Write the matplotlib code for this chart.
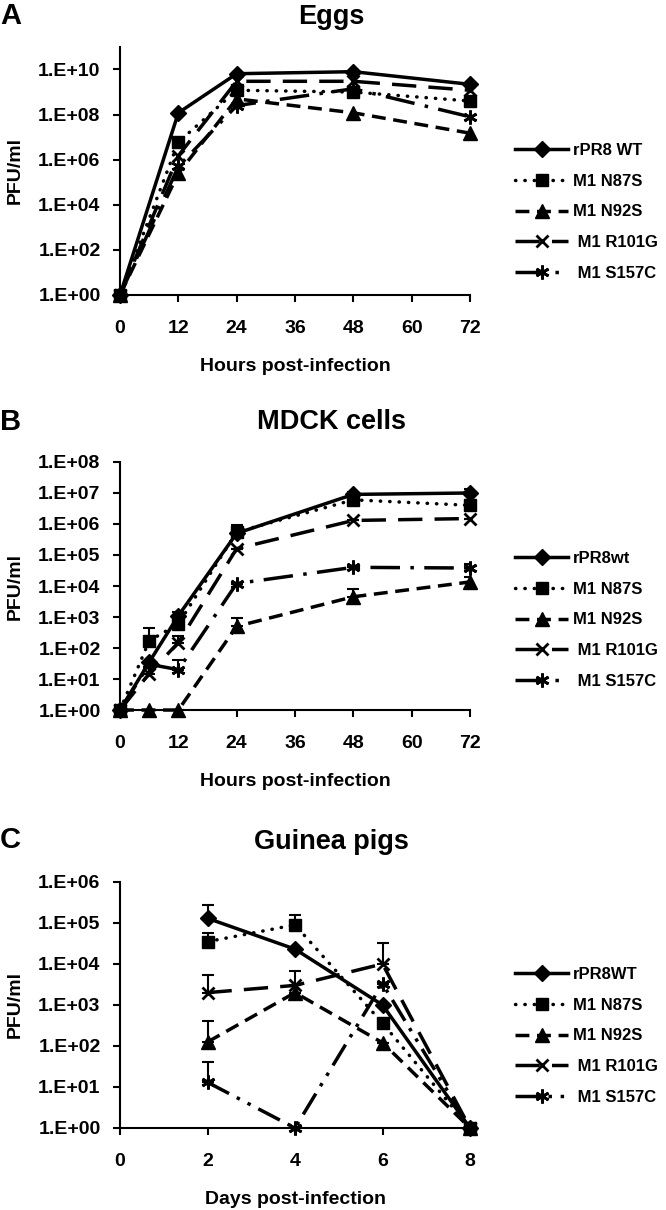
import numpy as np
import matplotlib
matplotlib.use("Agg")
import matplotlib.pyplot as plt
from matplotlib.ticker import FixedLocator, NullLocator

plt.rcParams['font.family'] = ['Liberation Sans', 'DejaVu Sans']
plt.rcParams['font.weight'] = 'bold'

# A - eggs
egg_hours = [0, 12, 24, 48, 72]
egg_wt = [1, 1.2e8, 6.5e9, 8e9, 2.2e9]
egg_n87s = [1, 6e6, 1.2e9, 1e9, 4e8]
egg_n92s = [1, 2.5e5, 5e8, 1.2e8, 1.5e7]
egg_r101g = [1, 1.5e6, 3e9, 3e9, 1.2e9]
egg_s157c = [1, 5e5, 2.5e8, 1.4e9, 8e7]
egg_labels = ['rPR8 WT', 'M1 N87S', 'M1 N92S', ' M1 R101G', ' M1 S157C']

# B - MDCK cells
mdck_hours = [0, 6, 12, 24, 48, 72]
mdck_wt = [1, 35, 1100, 5e5, 9e6, 1e7]
mdck_n87s = [1, 170, 600, 5.5e5, 6e6, 4e6]
mdck_n92s = [1, 1, 1, 500, 4.5e3, 1.35e4]
mdck_r101g = [1, 15, 150, 1.6e5, 1.3e6, 1.5e6]
mdck_s157c = [1, 30, 20, 1.2e4, 4e4, 3.8e4]
mdck_wt_err = [0, 0, 300, 2e5, 2e6, 3e6]
mdck_n87s_err = [0, 280, 400, 4e5, 2e6, 2e6]
mdck_n92s_err = [0, 0, 0, 400, 3.5e3, 6e3]
mdck_r101g_err = [0, 10, 100, 0, 0, 0]
mdck_s157c_err = [0, 0, 20, 0, 0, 1.5e4]
mdck_labels = ['rPR8wt', 'M1 N87S', 'M1 N92S', ' M1 R101G', ' M1 S157C']

# C - guinea pigs
gp_days = [2, 4, 6, 8]
gp_wt = [1.3e5, 2.3e4, 1000, 1]
gp_n87s = [3.5e4, 9e4, 360, 1]
gp_n92s = [125, 2000, 120, 1]
gp_r101g = [2000, 3000, 1e4, 1]
gp_s157c = [13, 1, 3300, 1]
gp_wt_err = [1.4e5, 0, 0, 0]
gp_n87s_err = [2.2e4, 7e4, 0, 0]
gp_n92s_err = [275, 0, 0, 0]
gp_r101g_err = [3400, 3800, 2.2e4, 0]
gp_s157c_err = [27, 0, 0, 0]
gp_labels = ['rPR8WT', 'M1 N87S', 'M1 N92S', ' M1 R101G', ' M1 S157C']

markers = ['D', 's', '^', 'x', (6, 2, 0)]
msizes = [8.5, 8.5, 9.5, 9, 10]
dashes = [(None, None), (0.1, 2.6), (4, 2.2), (7, 3.5), (8.5, 3, 1, 3)]


def draw_panel(ax, x, series, errs, labels, ymax, ytop, xticks, last_dash, xlabel, leg_y):
    for i, y in enumerate(series):
        d = last_dash if i == 4 else dashes[i]
        line, = ax.plot(x, y, color='black', lw=2.5, marker=markers[i], ms=msizes[i],
                        mfc='black', mec='black', mew=2 if i >= 3 else 1,
                        label=labels[i], clip_on=False, zorder=3)
        if d[0] is not None:
            line.set_dashes(d)
        if i == 1:
            line.set_dash_capstyle('round')
        if errs is not None:
            ax.errorbar(x, y, yerr=[np.zeros(len(y)), errs[i]], fmt='none', ecolor='black',
                        elinewidth=1.5, capsize=4, capthick=1.5, zorder=2)
    ax.set_yscale('log')
    ax.set_ylim(1, ytop)
    exps = list(range(0, ymax + 1, 2 if ymax > 8 else 1))
    ax.yaxis.set_major_locator(FixedLocator([10.0 ** e for e in exps]))
    ax.yaxis.set_minor_locator(NullLocator())
    ax.set_yticklabels(['1.E+%02d' % e for e in exps])
    ax.set_xlim(xticks[0], xticks[-1])
    ax.set_xticks(xticks)
    ax.spines['top'].set_visible(False)
    ax.spines['right'].set_visible(False)
    for s in ['left', 'bottom']:
        ax.spines[s].set_linewidth(1.5)
    ax.tick_params(axis='y', direction='out', length=5, width=1.5, labelsize=14, pad=9)
    ax.tick_params(axis='x', direction='out', length=5, width=1.5, labelsize=14, pad=13)
    ax.set_xlabel(xlabel, fontsize=14, fontweight='bold', labelpad=15)
    ax.set_ylabel('PFU/ml', fontsize=14, fontweight='bold')
    ax.yaxis.set_label_coords(-0.275, 0.5)
    ax.legend(loc='center left', bbox_to_anchor=(1.129, leg_y), frameon=False, fontsize=12,
              handlelength=3.2, handletextpad=0.25, labelspacing=0.95,
              borderpad=0, borderaxespad=0)


fig = plt.figure(figsize=(6.66, 12.1), dpi=100)
ax_a = fig.add_axes([0.1802, 0.7562, 0.5255, 0.2050])
ax_b = fig.add_axes([0.1802, 0.4132, 0.5255, 0.2050])
ax_c = fig.add_axes([0.1802, 0.0678, 0.5255, 0.2033])

draw_panel(ax_a, egg_hours, [egg_wt, egg_n87s, egg_n92s, egg_r101g, egg_s157c], None, egg_labels,
           10, 1e11, [0, 12, 24, 36, 48, 60, 72], dashes[4], 'Hours post-infection', 0.335)
draw_panel(ax_b, mdck_hours, [mdck_wt, mdck_n87s, mdck_n92s, mdck_r101g, mdck_s157c],
           [mdck_wt_err, mdck_n87s_err, mdck_n92s_err, mdck_r101g_err, mdck_s157c_err], mdck_labels,
           8, 1e8, [0, 12, 24, 36, 48, 60, 72], dashes[4], 'Hours post-infection', 0.363)
draw_panel(ax_c, gp_days, [gp_wt, gp_n87s, gp_n92s, gp_r101g, gp_s157c],
           [gp_wt_err, gp_n87s_err, gp_n92s_err, gp_r101g_err, gp_s157c_err], gp_labels,
           6, 1e6, [0, 2, 4, 6, 8], (7, 2.5, 1, 2.5, 1, 2.5), 'Days post-infection', 0.374)

fig.text(0.497, 1 - 17 / 1210, 'Eggs', ha='center', va='center', fontsize=19.5, fontweight='bold')
fig.text(0.497, 1 - 422 / 1210, 'MDCK cells', ha='center', va='center', fontsize=19.5, fontweight='bold')
fig.text(0.497, 1 - 842 / 1210, 'Guinea pigs', ha='center', va='center', fontsize=19.5, fontweight='bold')
fig.text(0.0, 1 - 16 / 1210, 'A', ha='left', va='center', fontsize=21, fontweight='bold')
fig.text(0.0, 1 - 422 / 1210, 'B', ha='left', va='center', fontsize=21, fontweight='bold')
fig.text(0.0, 1 - 840 / 1210, 'C', ha='left', va='center', fontsize=21, fontweight='bold')

fig.savefig('out.png', dpi=100)
